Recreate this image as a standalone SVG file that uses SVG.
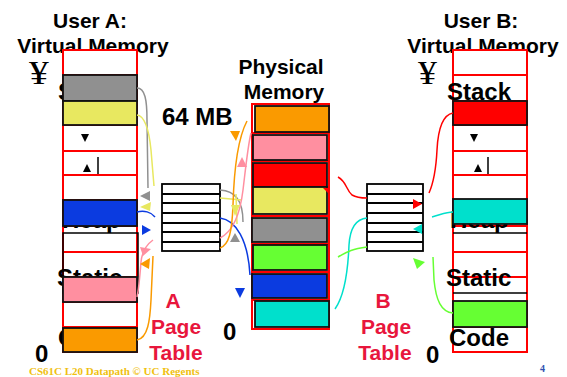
<svg xmlns="http://www.w3.org/2000/svg" width="567" height="377" viewBox="0 0 567 377">
  <style>
    .t { font-family: "Liberation Sans", Arial, sans-serif; font-weight: bold; fill: #000; }
    .h { font-size: 21px; }
    .seg { font-size: 24px; }
    .yen { font-family: "Liberation Serif", "Times New Roman", serif; font-size: 33px; fill: #000; }
    .pt { font-family: "Liberation Sans", Arial, sans-serif; font-weight: bold; font-size: 21px; fill: #e8163c; text-anchor: middle; }
    .col { fill: #fff; stroke: #ff0000; stroke-width: 2; }
    .rl { stroke: #ff0000; stroke-width: 2; fill: none; }
    .bl { stroke: #000; stroke-width: 1.5; fill: none; }
    .box { stroke: #111; stroke-width: 1.8; }
    .tbl rect { fill: #fff; stroke: #000; stroke-width: 1.8; }
    .tbl line { stroke: #000; stroke-width: 2; }
    .c { fill: none; stroke-width: 1.5; }
  </style>

  <!-- headings -->
  <g id="title-a">
    <text class="t h" x="90" y="28" text-anchor="middle">User A:</text>
    <text class="t h" x="93" y="53" text-anchor="middle">Virtual Memory</text>
  </g>
  <g id="title-b">
    <text class="t h" x="481" y="28" text-anchor="middle">User B:</text>
    <text class="t h" x="483" y="53" text-anchor="middle">Virtual Memory</text>
  </g>
  <g id="title-phys">
    <text class="t h" x="281" y="74" text-anchor="middle">Physical</text>
    <text class="t h" x="284" y="99" text-anchor="middle">Memory</text>
  </g>
  <text class="t seg" x="162" y="125">64 MB</text>
  <text class="yen" x="29" y="84" transform="translate(29 84) scale(1.2 1) translate(-29 -84)">¥</text>
  <text class="yen" x="418" y="84" transform="translate(418 84) scale(1.15 1) translate(-418 -84)">¥</text>
  <text class="t seg" x="35" y="362">0</text>
  <text class="t seg" x="223" y="340">0</text>
  <text class="t seg" x="426" y="363">0</text>

  <!-- user A virtual address space -->
  <g id="vm-a">
    <rect class="col" x="63" y="50" width="74" height="302"/>
    <path class="rl" d="M63,75H137M63,101H137M63,125H137M63,151H137M63,175H137M63,200H137M63,226H137M63,252H137M63,277H137M63,302H137M63,327H137"/>
    <rect class="bl" x="63" y="233" width="75" height="60"/>
    <line x1="98" y1="157" x2="98" y2="174" stroke="#000" stroke-width="1.5"/>
    <polygon points="81,134 89,134 85,142" fill="#000"/>
    <polygon points="83,172 91,172 87,164" fill="#000"/>
    <text class="t seg" x="58" y="100">Stack</text>
    <text class="t seg" x="62" y="228">Heap</text>
    <text class="t seg" x="57" y="286">Static</text>
    <text class="t seg" x="58" y="346">Code</text>
    <rect class="box" x="63" y="75" width="74" height="26" fill="#909090"/>
    <rect class="box" x="63" y="101" width="74" height="24" fill="#e8e860"/>
    <rect class="box" x="63" y="200" width="74" height="26" fill="#0b3be0"/>
    <rect class="box" x="63" y="277" width="74" height="25" fill="#ff8fa0"/>
    <rect class="box" x="63" y="328" width="74" height="24" fill="#fa9a00"/>
  </g>

  <!-- user B virtual address space -->
  <g id="vm-b">
    <rect class="col" x="453" y="50" width="74" height="302"/>
    <path class="rl" d="M453,75H527M453,101H527M453,125H527M453,151H527M453,175H527M453,200H527M453,226H527M453,252H527M453,277H527M453,302H527M453,327H527"/>
    <path class="bl" d="M453,233H527M453,293H527"/>
    <line x1="488" y1="157" x2="488" y2="174" stroke="#000" stroke-width="1.5"/>
    <polygon points="470,134 478,134 474,142" fill="#000"/>
    <polygon points="474,172 482,172 478,164" fill="#000"/>
    <text class="t seg" x="447" y="100">Stack</text>
    <text class="t seg" x="450" y="228">Heap</text>
    <text class="t seg" x="446" y="286">Static</text>
    <text class="t seg" x="449" y="346">Code</text>
    <rect class="box" x="453" y="101" width="74" height="24" fill="#ff0000"/>
    <rect class="box" x="453" y="199" width="74" height="25" fill="#00e0cc"/>
    <rect class="box" x="453" y="301" width="74" height="26" fill="#66ff33"/>
  </g>

  <!-- physical memory -->
  <g id="phys">
    <rect class="col" x="252" y="104" width="77" height="225"/>
    <path class="rl" d="M252,133H329M252,161H329M252,216H329M252,244H329M252,272H329M252,300H329"/>
    <rect class="box" x="255" y="106" width="74" height="26" fill="#fa9a00"/>
    <rect class="box" x="253" y="135" width="74" height="25" fill="#ff8fa0"/>
    <rect class="box" x="253" y="163" width="74" height="24" fill="#ff0000"/>
    <rect class="box" x="253" y="187" width="74" height="27" fill="#e8e860"/>
    <polygon points="323,188 328,188 328,193" fill="#ff0000"/>
    <rect class="box" x="252" y="218" width="75" height="24" fill="#909090"/>
    <rect class="box" x="253" y="245" width="74" height="25" fill="#66ff33"/>
    <rect class="box" x="252" y="274" width="75" height="24" fill="#0b3be0"/>
    <rect class="box" x="255" y="301" width="74" height="26" fill="#00e0cc"/>
  </g>

  <!-- page tables -->
  <g id="pt-a" class="tbl">
    <rect x="162" y="184" width="58" height="67"/>
    <line x1="162" y1="194" x2="220" y2="194"/>
    <line x1="162" y1="203" x2="220" y2="203"/>
    <line x1="162" y1="213" x2="220" y2="213"/>
    <line x1="162" y1="223" x2="220" y2="223"/>
    <line x1="162" y1="232" x2="220" y2="232"/>
    <line x1="162" y1="242" x2="220" y2="242"/>
  </g>
  <g id="pt-b" class="tbl">
    <rect x="367" y="184" width="56" height="67"/>
    <line x1="367" y1="194" x2="423" y2="194"/>
    <line x1="367" y1="203" x2="423" y2="203"/>
    <line x1="367" y1="213" x2="423" y2="213"/>
    <line x1="367" y1="223" x2="423" y2="223"/>
    <line x1="367" y1="232" x2="423" y2="232"/>
    <line x1="367" y1="242" x2="423" y2="242"/>
  </g>
  <g id="pt-a-label">
    <text class="pt" x="173" y="308">A</text>
    <text class="pt" x="176" y="334">Page</text>
    <text class="pt" x="176" y="360">Table</text>
  </g>
  <g id="pt-b-label">
    <text class="pt" x="383" y="308">B</text>
    <text class="pt" x="386" y="334">Page</text>
    <text class="pt" x="385" y="360">Table</text>
  </g>

  <!-- mapping connectors -->
  <g id="connectors">
    <!-- user A to page table A -->
    <path class="c" stroke="#909090" d="M137,88 C145,88 147,100 147,120 L148,188"/>
    <path class="c" stroke="#e8e860" d="M137,115 C145,116 149,130 151,150 L154,186"/>
    <path class="c" stroke="#0b3be0" d="M137,212 C144,210 151,212 155,217"/>
    <path class="c" stroke="#ff8fa0" d="M153,240 C146,245 142,252 141,262 C140,275 139,288 137,297"/>
    <path class="c" stroke="#fa9a00" d="M137,340 C148,338 150,320 151,300 L153,256"/>
    <polygon points="140,196 150,191 150,201" fill="#909090"/>
    <polygon points="140,207 151,202 150,211" fill="#e8e860"/>
    <polygon points="151,230 142,225 142,235" fill="#0b3be0"/>
    <polygon points="143,256 140,247 151,249" fill="#ff8fa0"/>
    <polygon points="140,264 150,258 149,269" fill="#fa9a00"/>

    <!-- page table A to physical memory -->
    <path class="c" stroke="#909090" d="M220,190 C235,191 243,200 243,222"/>
    <path class="c" stroke="#e8e860" d="M220,198 L242,200 M236,194 L237,224"/>
    <path class="c" stroke="#0b3be0" d="M220,218 C236,220 248,240 250,275"/>
    <path class="c" stroke="#ff8fa0" d="M220,238 C232,232 240,215 243,190 C246,165 248,145 251,133"/>
    <path class="c" stroke="#fa9a00" d="M220,248 C229,245 232,232 233,205 C234,170 237,140 247,121"/>
    <polygon points="235,233 230,242 240,242" fill="#909090"/>
    <polygon points="231,205 240,205 235,216" fill="#e8e860"/>
    <polygon points="235,288 245,288 240,298" fill="#0b3be0"/>
    <polygon points="230,131 240,131 236,141" fill="#fa9a00"/>
    <polygon points="242,157 237,167 247,167" fill="#ff8fa0"/>

    <!-- user B to page table B and physical memory -->
    <path class="c" stroke="#ff0000" d="M453,113 C442,115 438,130 437,150 C436,170 433,184 429,193"/>
    <path class="c" stroke="#ff0000" d="M338,177 C347,182 346,190 352,195 C357,198 362,198 367,198"/>
    <path class="c" stroke="#00e0cc" d="M432,217 C440,215 446,212 453,212"/>
    <path class="c" stroke="#00e0cc" d="M367,218 C356,219 350,228 349,245 C348,270 345,295 335,309"/>
    <path class="c" stroke="#66ff33" d="M453,313 C441,312 436,300 434,280 L433,257"/>
    <path class="c" stroke="#66ff33" d="M338,257 C348,251 353,249 367,247"/>
    <polygon points="422,204 413,199 413,209" fill="#ff0000"/>
    <polygon points="413,229 422,224 422,234" fill="#00e0cc"/>
    <polygon points="413,258 425,262 417,269" fill="#66ff33"/>
  </g>

  <!-- footer -->
  <text x="29" y="375" font-family="Liberation Serif, Times New Roman, serif" font-weight="bold" font-size="11" fill="#f0c010">CS61C L20 Datapath © UC Regents</text>
  <text x="540" y="372" font-family="Liberation Serif, Times New Roman, serif" font-weight="bold" font-size="10" fill="#3050b0">4</text>
</svg>
